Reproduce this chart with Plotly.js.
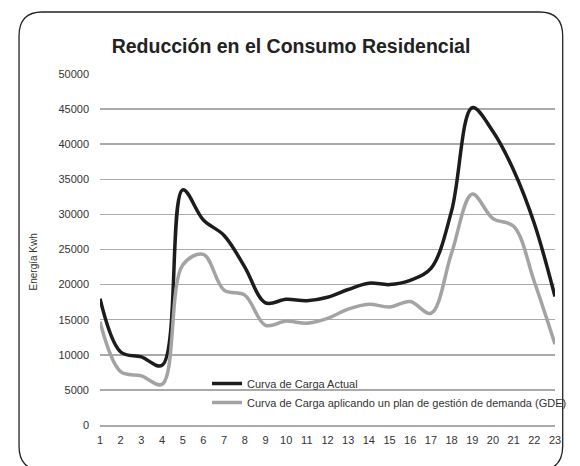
<!DOCTYPE html>
<html>
<head>
<meta charset="utf-8">
<script src="https://cdn.plot.ly/plotly-3.0.1.min.js"></script>
<style>html,body{margin:0;padding:0;background:#fff;}#chart{width:580px;height:466px;}</style>
</head>
<body>
<div id="chart"></div>
<script>
var hours = ["1","2","3","4","5","6","7","8","9","10","11","12","13","14","15","16","17","18","19","20","21","22","23"];
var actual = [18000,10400,9700,8500,33500,29200,27000,22500,17400,17900,17700,18200,19300,20200,20000,20600,22300,30500,45200,41800,36300,28700,18300];
var gde = [14700,7600,7000,5800,22800,24300,19200,18500,14200,14800,14500,15200,16500,17200,16800,17600,15900,24500,32900,29400,28300,20400,11500];
var yTicks = [0,5000,10000,15000,20000,25000,30000,35000,40000,45000,50000];

var W = 580, H = 466;
var L = 100, R = 8, T = 74, B = 41;
var pw = W - L - R, ph = H - T - B;
function px(x){ return (x - L) / pw; }
function py(y){ return (H - B - y) / ph; }

// rounded frame in paper coords
var x0 = px(16), x1 = px(580), y0 = py(12), y1 = py(470);
var rx = 24 / pw, ry = 24 / ph;
var framePath = 'M ' + (x0 + rx) + ' ' + y0 +
  ' L ' + (x1 - rx) + ' ' + y0 +
  ' Q ' + x1 + ' ' + y0 + ' ' + x1 + ' ' + (y0 - ry) +
  ' L ' + x1 + ' ' + (y1 + ry) +
  ' Q ' + x1 + ' ' + y1 + ' ' + (x1 - rx) + ' ' + y1 +
  ' L ' + (x0 + rx) + ' ' + y1 +
  ' Q ' + x0 + ' ' + y1 + ' ' + x0 + ' ' + (y1 + ry) +
  ' L ' + x0 + ' ' + (y0 - ry) +
  ' Q ' + x0 + ' ' + y0 + ' ' + (x0 + rx) + ' ' + y0 + ' Z';

var traces = [
  {x: hours, y: actual, type: 'scatter', mode: 'lines', name: 'Curva de Carga Actual',
   line: {color: '#1c1c1c', width: 3.5, shape: 'spline', smoothing: 1}},
  {x: hours, y: gde, type: 'scatter', mode: 'lines', name: 'Curva de Carga aplicando un plan de gestión de demanda (GDE)',
   line: {color: '#a3a3a3', width: 3.5, shape: 'spline', smoothing: 1}}
];

var layout = {
  width: W, height: H,
  margin: {l: L, r: R, t: T, b: B, pad: 0},
  paper_bgcolor: '#fff', plot_bgcolor: '#fff',
  font: {family: '"Liberation Sans", Arial, sans-serif', color: '#333', size: 11},
  title: {text: '<b>Reducción en el Consumo Residencial</b>', font: {size: 19.5, color: '#222'},
          x: 291 / W, xanchor: 'center', xref: 'container', y: 1 - 46 / H, yanchor: 'middle', yref: 'container'},
  xaxis: {type: 'category', range: [0, 22], showgrid: false, zeroline: false,
          showline: true, linecolor: '#aaaaaa', linewidth: 1.5,
          ticks: '', ticklabelstandoff: 4, tickfont: {size: 11, color: '#333'}, fixedrange: true, automargin: false},
  yaxis: {range: [0, 50000], tickvals: yTicks, ticktext: yTicks.map(String), showgrid: true,
          gridcolor: '#aaaaaa', gridwidth: 1.5, zeroline: false,
          showline: false, ticks: '',
          ticklabelstandoff: 10, tickfont: {size: 11, color: '#333'}, fixedrange: true, automargin: false},
  showlegend: true,
  legend: {x: px(211), xanchor: 'left', y: py(369), yanchor: 'top', bgcolor: 'rgba(0,0,0,0)',
           font: {size: 11, color: '#333'}, tracegroupgap: 0, itemwidth: 30},
  shapes: [
    {type: 'path', xref: 'paper', yref: 'paper', path: framePath,
     line: {color: '#222', width: 1.3}, fillcolor: 'rgba(0,0,0,0)', layer: 'above'}],
  annotations: [{text: 'Energía Kwh', xref: 'paper', yref: 'paper', x: px(31), y: py(262),
                 showarrow: false, textangle: -90, font: {size: 10, color: '#333'},
                 xanchor: 'center', yanchor: 'middle'}]
};

Plotly.newPlot('chart', traces, layout, {displayModeBar: false, staticPlot: true});
</script>
</body>
</html>
